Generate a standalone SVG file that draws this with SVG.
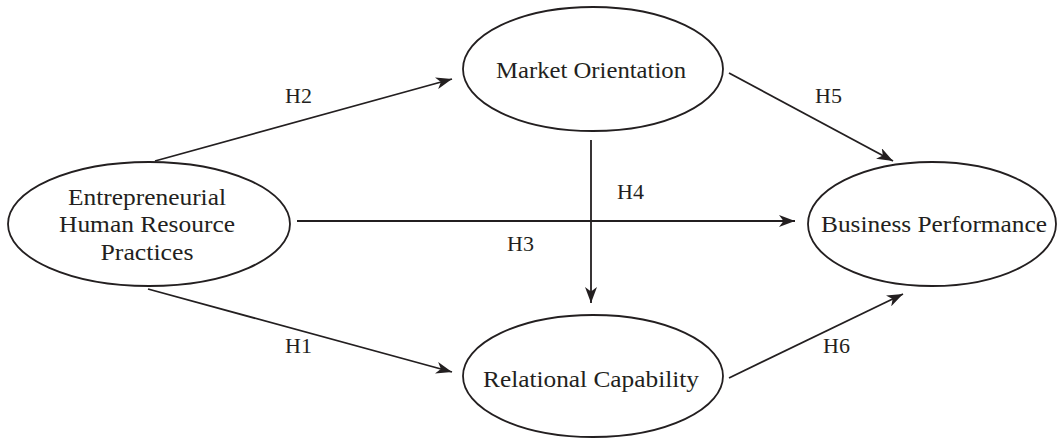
<svg xmlns="http://www.w3.org/2000/svg" width="1058" height="439" viewBox="0 0 1058 439">
<style>
.node ellipse{fill:#fff;stroke:#231f20;stroke-width:1.8}
.lbl{font-family:"Liberation Serif","Times New Roman",serif;font-size:23px;fill:#231f20;text-anchor:middle}
.h{font-family:"Liberation Serif","Times New Roman",serif;font-size:22px;fill:#231f20}
.conn line{stroke:#231f20;stroke-width:1.8;marker-end:url(#ah)}
</style>
<defs>
<marker id="ah" viewBox="0 0 16 12" refX="16" refY="6" markerWidth="16" markerHeight="12" markerUnits="userSpaceOnUse" orient="auto">
<path d="M0,0 L16,6 L0,12 L4.5,6 z" fill="#231f20"/>
</marker>
</defs>
<rect width="1058" height="439" fill="#fff"/>
<g id="connectors" class="conn">
<line x1="155" y1="161" x2="452" y2="79"/>
<line x1="729" y1="73" x2="893" y2="161"/>
<line x1="591" y1="140" x2="591" y2="303"/>
<line x1="297" y1="221" x2="795" y2="221"/>
<line x1="148" y1="289" x2="452" y2="372"/>
<line x1="729" y1="378" x2="903" y2="294"/>
<text class="h" x="285" y="103">H2</text>
<text class="h" x="815" y="103">H5</text>
<text class="h" x="617" y="199">H4</text>
<text class="h" x="507" y="251">H3</text>
<text class="h" x="285" y="353">H1</text>
<text class="h" x="823" y="353">H6</text>
</g>
<g id="ehrp" class="node">
<ellipse cx="149" cy="224" rx="141" ry="62"/>
<text class="lbl" x="147" y="205" textLength="158" lengthAdjust="spacingAndGlyphs">Entrepreneurial</text>
<text class="lbl" x="147" y="232" textLength="176" lengthAdjust="spacingAndGlyphs">Human Resource</text>
<text class="lbl" x="147" y="260" textLength="93" lengthAdjust="spacingAndGlyphs">Practices</text>
</g>
<g id="mo" class="node">
<ellipse cx="593" cy="69" rx="130" ry="62"/>
<text class="lbl" x="591" y="78" textLength="190" lengthAdjust="spacingAndGlyphs">Market Orientation</text>
</g>
<g id="rc" class="node">
<ellipse cx="593" cy="376" rx="130" ry="61"/>
<text class="lbl" x="591" y="387" textLength="216" lengthAdjust="spacingAndGlyphs">Relational Capability</text>
</g>
<g id="bp" class="node">
<ellipse cx="932" cy="224" rx="124" ry="62"/>
<text class="lbl" x="934" y="232" textLength="226" lengthAdjust="spacingAndGlyphs">Business Performance</text>
</g>
</svg>
